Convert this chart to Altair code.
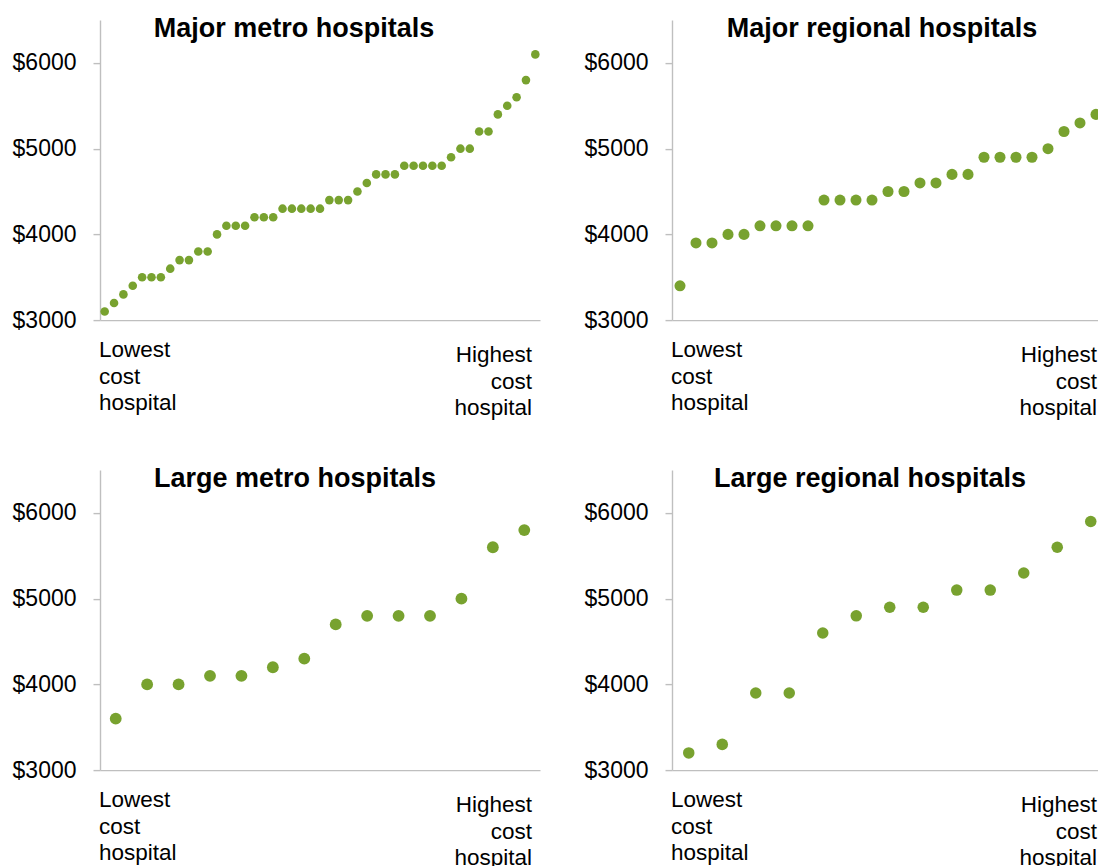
import altair as alt
import pandas as pd

# ---- data ----
PANEL_TITLES = ["Major metro hospitals", "Major regional hospitals",
                "Large metro hospitals", "Large regional hospitals"]

major_metro = [3100, 3200, 3300, 3400, 3500, 3500, 3500, 3600, 3700, 3700,
               3800, 3800, 4000, 4100, 4100, 4100, 4200, 4200, 4200, 4300,
               4300, 4300, 4300, 4300, 4400, 4400, 4400, 4500, 4600, 4700,
               4700, 4700, 4800, 4800, 4800, 4800, 4800, 4900, 5000, 5000,
               5200, 5200, 5400, 5500, 5600, 5800, 6100]
major_regional = [3400, 3900, 3900, 4000, 4000, 4100, 4100, 4100, 4100,
                  4400, 4400, 4400, 4400, 4500, 4500, 4600, 4600, 4700,
                  4700, 4900, 4900, 4900, 4900, 5000, 5200, 5300, 5400]
large_metro = [3600, 4000, 4000, 4100, 4100, 4200, 4300, 4700, 4800, 4800,
               4800, 5000, 5600, 5800]
large_regional = [3200, 3300, 3900, 3900, 4600, 4800, 4900, 4900, 5100,
                  5100, 5300, 5600, 5900]

Y_TICKS = [3000, 4000, 5000, 6000]
Y_DOMAIN = [3000, 6500]
LOW_LABEL = "Lowest\ncost\nhospital"
HIGH_LABEL = "Highest\ncost\nhospital"

GREEN = "#78A22F"
AXIS_GREY = "#BFBFBF"
FONT = "Liberation Sans"
H = 300


def panel(title, values, size, title_x, width, band, high_x):
    n = len(values)
    df = pd.DataFrame({"rank": list(range(1, n + 1)), "cost": values})
    x_hi = 0.5 + width / band
    pts = alt.Chart(df).mark_circle(size=size, color=GREEN, opacity=1,
                                    clip=True).encode(
        x=alt.X("rank:Q",
                scale=alt.Scale(domain=[0.5, x_hi], nice=False, zero=False),
                axis=alt.Axis(ticks=False, labels=False, grid=False,
                              title=None, domainColor=AXIS_GREY,
                              domainWidth=1.4)),
        y=alt.Y("cost:Q",
                scale=alt.Scale(domain=Y_DOMAIN, nice=False, zero=False),
                axis=alt.Axis(values=Y_TICKS, labelExpr="'$' + datum.value",
                              grid=False, title=None, domainColor=AXIS_GREY,
                              domainWidth=1.4, tickColor=AXIS_GREY,
                              tickWidth=1.4, tickSize=7, labelPadding=17,
                              labelFont=FONT, labelFontSize=23,
                              labelColor="#000000")),
    )
    ttl = alt.Chart(pd.DataFrame({"t": [title]})).mark_text(
        font=FONT, fontSize=27, fontWeight="bold", color="#000000",
        align="center", baseline="alphabetic").encode(
        text="t:N", x=alt.value(title_x), y=alt.value(16.5))
    low = alt.Chart(pd.DataFrame({"t": [LOW_LABEL]})).mark_text(
        font=FONT, fontSize=22.5, color="#000000", align="left",
        baseline="alphabetic", lineBreak="\n", lineHeight=26.5).encode(
        text="t:N", x=alt.value(-1), y=alt.value(337))
    high = alt.Chart(pd.DataFrame({"t": [HIGH_LABEL]})).mark_text(
        font=FONT, fontSize=22.5, color="#000000", align="right",
        baseline="alphabetic", lineBreak="\n", lineHeight=26.5).encode(
        text="t:N", x=alt.value(high_x), y=alt.value(342))
    return alt.layer(pts, ttl, low, high).properties(width=width, height=H)


p1 = panel(PANEL_TITLES[0], major_metro, 74, 194, 440, 440 / 47, 432)
p2 = panel(PANEL_TITLES[1], major_regional, 122, 210, 426, 16.0, 425)
p3 = panel(PANEL_TITLES[2], large_metro, 140, 195, 440, 440 / 14, 432)
p4 = panel(PANEL_TITLES[3], large_regional, 133, 198, 426, 33.5, 425)

chart = alt.vconcat(
    alt.hconcat(p1, p2, spacing=44),
    alt.hconcat(p3, p4, spacing=44),
    spacing=44,
).properties(
    padding={"left": 4, "top": 6.1, "right": 0, "bottom": 0},
    background="#FFFFFF",
).configure_view(stroke=None)

chart.save("out.html", embed_options={"renderer": "svg", "actions": False})
